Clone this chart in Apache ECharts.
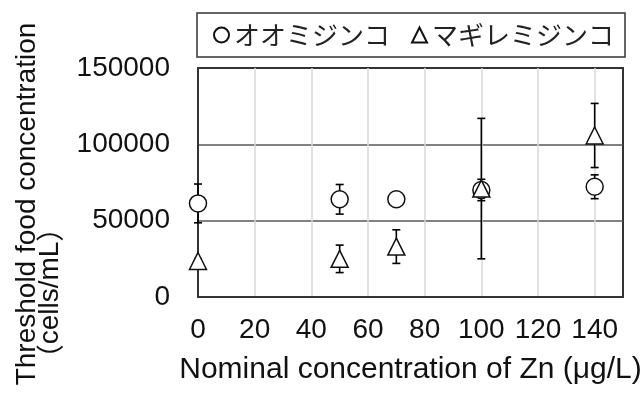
<!DOCTYPE html>
<html>
<head>
<meta charset="utf-8">
<script src="https://cdn.jsdelivr.net/npm/echarts@6/dist/echarts.min.js"></script>
<style>
html,body{margin:0;padding:0;background:#fff;}
#chart{width:640px;height:396px;}
</style>
</head>
<body>
<div id="chart"></div>
<script>
// Data
const concentrations = [0, 50, 70, 100, 140];
const seriesNames = ['オオミジンコ', 'マギレミジンコ'];
const oomijinkoMean = [61300, 64000, 64000, 70100, 72200];
const oomijinkoErr  = [12700, 9700, 1500, 7000, 7800];
const magiremijinkoMean = [23600, 25000, 33000, 71000, 105800];
const magiremijinkoErr  = [1500, 9000, 11000, 46000, 21000];
const xTicks = [0, 20, 40, 60, 80, 100, 120, 140];
const yTicks = [0, 50000, 100000, 150000];
const xTitle = 'Nominal concentration of Zn (μg/L)';
const yTitle1 = 'Threshold food concentration';
const yTitle2 = 'cells/mL';

function pairs(xs, ys) { return xs.map((x, i) => [x, ys[i]]); }
function errData(xs, m, e) { return xs.map((x, i) => [x, m[i] - e[i], m[i] + e[i]]); }

function errorRender(params, api) {
  const x = api.value(0);
  const lo = api.coord([x, api.value(1)]);
  const hi = api.coord([x, api.value(2)]);
  const half = 4;
  const style = { stroke: '#000', lineWidth: 1.6 };
  return {
    type: 'group',
    children: [
      { type: 'line', shape: { x1: lo[0], y1: lo[1], x2: hi[0], y2: hi[1] }, style: style },
      { type: 'line', shape: { x1: lo[0] - half, y1: lo[1], x2: lo[0] + half, y2: lo[1] }, style: style },
      { type: 'line', shape: { x1: hi[0] - half, y1: hi[1], x2: hi[0] + half, y2: hi[1] }, style: style }
    ]
  };
}

const chart = echarts.init(document.getElementById('chart'), null, { renderer: 'canvas' });
const tickFont = 'Liberation Sans, Arial, sans-serif';
chart.setOption({
  animation: false,
  backgroundColor: '#fff',
  grid: { left: 198, top: 68, width: 425, height: 229, containLabel: false, outerBoundsMode: 'none', show: true, borderColor: '#333', borderWidth: 2, backgroundColor: 'transparent' },
  legend: {
    left: 197, top: 13,
    padding: [9, 11, 9, 16],
    itemGap: 21,
    itemWidth: 15, itemHeight: 15,
    borderColor: '#333', borderWidth: 1.5, borderRadius: 0,
    textStyle: { fontFamily: 'Noto Sans CJK JP', fontSize: 26, color: '#222', lineHeight: 26 },
    data: seriesNames.map(n => ({ name: n }))
  },
  xAxis: {
    type: 'value', min: 0, max: 150, interval: 20,
    name: xTitle, nameLocation: 'middle', nameGap: 58,
    nameTextStyle: { fontFamily: tickFont, fontSize: 30, color: '#111' },
    axisLine: { show: true, lineStyle: { color: '#333', width: 2 } },
    axisTick: { show: false },
    axisLabel: {
      margin: 19, fontFamily: tickFont, fontSize: 28, color: '#111',
      formatter: v => (xTicks.indexOf(v) >= 0 ? String(v) : '')
    },
    splitLine: { show: true, showMinLine: false, showMaxLine: false, lineStyle: { color: '#d9d9d9', width: 1.5 } }
  },
  yAxis: {
    type: 'value', min: 0, max: 150000, interval: 50000,
    axisLine: { show: true, lineStyle: { color: '#333', width: 2 } },
    axisTick: { show: false },
    axisLabel: {
      margin: 28, fontFamily: tickFont, fontSize: 28, color: '#111',
      formatter: v => (yTicks.indexOf(v) >= 0 ? String(v) : '')
    },
    splitLine: { show: true, showMinLine: false, showMaxLine: false, lineStyle: { color: '#595959', width: 1.5 } }
  },
  graphic: [
    { type: 'text', x: 27, y: 204, rotation: Math.PI / 2, style: { text: yTitle1, font: '28px Liberation Sans, Arial, sans-serif', fill: '#111', align: 'center', verticalAlign: 'middle' } },
    { type: 'text', x: 50, y: 293, rotation: Math.PI / 2, style: {
        text: '{p|（}' + yTitle2 + '{p|）}',
        font: '28px Liberation Sans, Arial, sans-serif', fill: '#111', align: 'center', verticalAlign: 'middle',
        rich: { p: { fontFamily: 'Noto Sans CJK JP', fontSize: 28, fill: '#111' } }
      } }
  ],
  series: [
    { type: 'custom', name: 'err1', renderItem: errorRender, data: errData(concentrations, oomijinkoMean, oomijinkoErr), z: 3, clip: false, silent: true },
    { type: 'custom', name: 'err2', renderItem: errorRender, data: errData(concentrations, magiremijinkoMean, magiremijinkoErr), z: 3, clip: false, silent: true },
    { type: 'scatter', name: seriesNames[0], symbol: 'circle', symbolSize: 17, data: pairs(concentrations, oomijinkoMean), itemStyle: { color: '#fff', borderColor: '#111', borderWidth: 1.5, opacity: 1 }, z: 4, clip: false },
    { type: 'scatter', name: seriesNames[1], symbol: 'triangle', symbolSize: [17, 17], data: pairs(concentrations, magiremijinkoMean), itemStyle: { color: '#fff', borderColor: '#111', borderWidth: 1.5, opacity: 1 }, z: 5, clip: false }
  ]
});
</script>
</body>
</html>
